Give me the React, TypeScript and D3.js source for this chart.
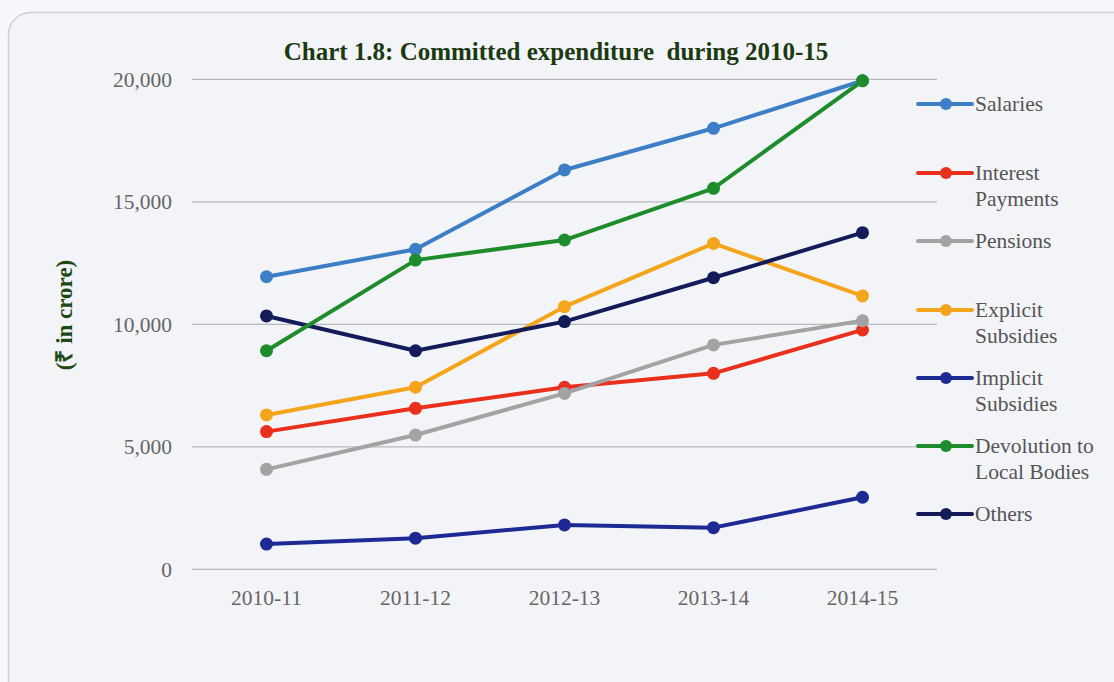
import React from "react";
import * as d3 from "d3";

const categories = ["2010-11", "2011-12", "2012-13", "2013-14", "2014-15"];
const seriesNames = [
  "Salaries",
  "Interest Payments",
  "Pensions",
  "Explicit Subsidies",
  "Implicit Subsidies",
  "Devolution to Local Bodies",
  "Others",
];
const legendLines = [
  ["Salaries"],
  ["Interest", "Payments"],
  ["Pensions"],
  ["Explicit", "Subsidies"],
  ["Implicit", "Subsidies"],
  ["Devolution to", "Local Bodies"],
  ["Others"],
];
const salaries = [11940, 13060, 16300, 18000, 19940];
const interestPayments = [5620, 6570, 7430, 8000, 9770];
const pensions = [4080, 5480, 7180, 9160, 10150];
const explicitSubsidies = [6300, 7430, 10720, 13300, 11160];
const implicitSubsidies = [1030, 1270, 1810, 1700, 2940];
const devolution = [8920, 12620, 13440, 15550, 19940];
const others = [10340, 8920, 10110, 11900, 13740];
const yTicks = [0, 5000, 10000, 15000, 20000];
const colors = ["#3c7fc6", "#e8301c", "#a3a3a3", "#f5a51c", "#1d2a94", "#1f8c2b", "#131c58"];

const seriesValues = [salaries, interestPayments, pensions, explicitSubsidies, implicitSubsidies, devolution, others];
// drawing order (back to front)
const drawOrder = [4, 1, 2, 3, 6, 0, 5];

export default function App() {
  const W = 1114;
  const H = 682;
  const left = 192;
  const right = 937;
  const top = 79.3;
  const bottom = 569.3;

  const x = d3.scaleBand<string>().domain(categories).range([left, right]);
  const y = d3.scaleLinear().domain([0, 20000]).range([bottom, top]);
  const cx = (c: string) => (x(c) as number) + x.bandwidth() / 2;
  const line = d3
    .line<number>()
    .x((_, i) => cx(categories[i]))
    .y((d) => y(d));
  const fmt = d3.format(",");

  const legendY = [104, 173, 241, 310, 378, 446, 514];
  const serif = "'Liberation Serif', 'Times New Roman', serif";

  return (
    <svg
      width={W}
      height={H}
      style={{ position: "absolute", left: 0, top: 0, display: "block" }}
    >
      <rect x={0} y={0} width={W} height={H} fill="#f7f8fb" />
      <rect
        x={8.5}
        y={12.5}
        width={W + 40}
        height={H + 40}
        rx={22}
        fill="#f3f4f8"
        stroke="#cfd0d4"
        strokeWidth={1.5}
      />
      <text
        x={556}
        y={59.5}
        textAnchor="middle"
        fontFamily={serif}
        fontWeight="bold"
        fontSize={25}
        fill="#1b3a10"
        style={{ whiteSpace: "pre" }}
      >
        {"Chart 1.8: Committed expenditure  during 2010-15"}
      </text>
      <text
        transform="translate(72,315) rotate(-90)"
        textAnchor="middle"
        fontFamily={serif}
        fontWeight="bold"
        fontSize={23}
        fill="#1d4a14"
      >
        (₹ in crore)
      </text>
      {yTicks.map((t) => (
        <g key={t}>
          <line x1={left} x2={right} y1={y(t)} y2={y(t)} stroke="#b8b9bd" strokeWidth={1.3} />
          <text
            x={172}
            y={y(t)}
            dy="0.35em"
            textAnchor="end"
            fontFamily={serif}
            fontSize={21.5}
            fill="#666"
          >
            {fmt(t)}
          </text>
        </g>
      ))}
      {categories.map((c) => (
        <text
          key={c}
          x={cx(c)}
          y={605}
          textAnchor="middle"
          fontFamily={serif}
          fontSize={21.5}
          fill="#666"
        >
          {c}
        </text>
      ))}
      {drawOrder.map((si) => (
        <g key={si}>
          <path
            d={line(seriesValues[si]) || ""}
            fill="none"
            stroke={colors[si]}
            strokeWidth={4}
            strokeLinejoin="round"
          />
          {seriesValues[si].map((v, i) => (
            <circle key={i} cx={cx(categories[i])} cy={y(v)} r={6.5} fill={colors[si]} />
          ))}
        </g>
      ))}
      {seriesNames.map((n, i) => (
        <g key={n}>
          <line
            x1={918}
            x2={972}
            y1={legendY[i]}
            y2={legendY[i]}
            stroke={colors[i]}
            strokeWidth={4}
            strokeLinecap="round"
          />
          <circle cx={946} cy={legendY[i]} r={6} fill={colors[i]} />
          <text fontFamily={serif} fontSize={21.5} fill="#555">
            {legendLines[i].map((t, k) => (
              <tspan key={k} x={975} y={legendY[i] + 7 + k * 26}>
                {t}
              </tspan>
            ))}
          </text>
        </g>
      ))}
    </svg>
  );
}
